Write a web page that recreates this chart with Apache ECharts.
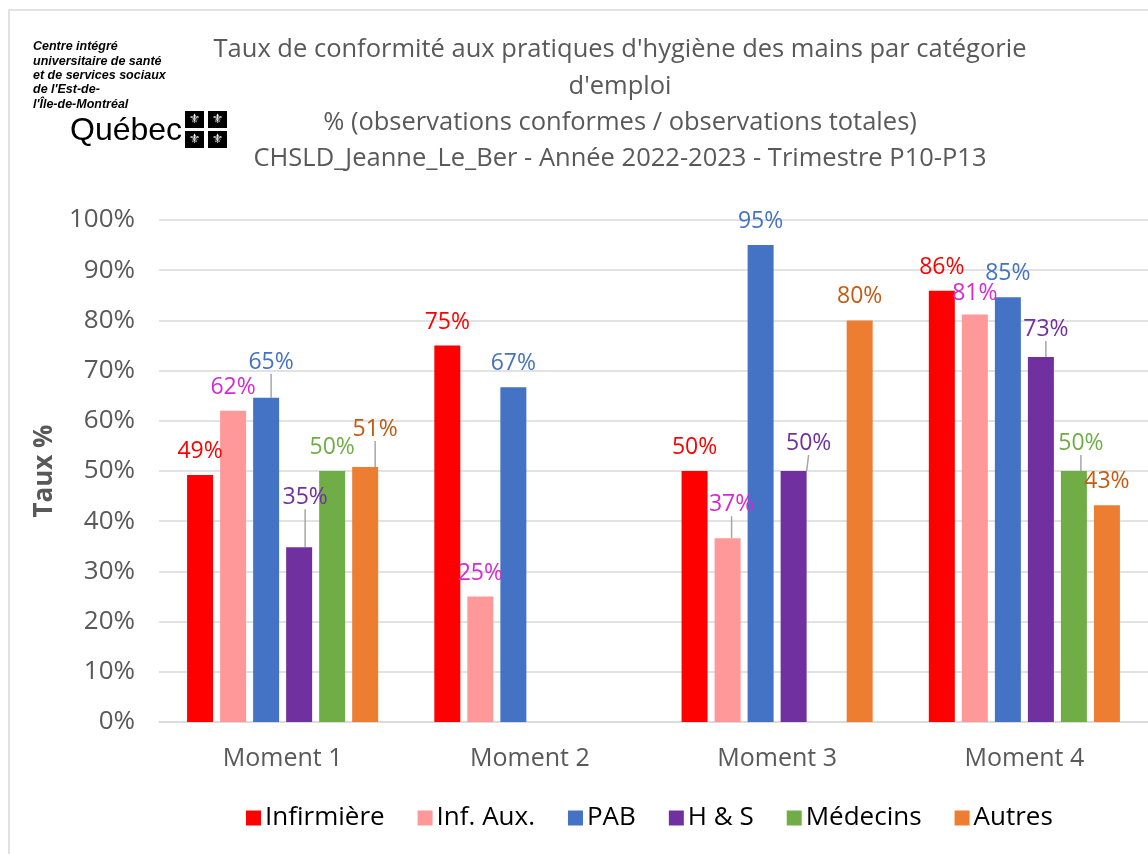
<!DOCTYPE html>
<html>
<head>
<meta charset="utf-8">
<script src="https://cdn.jsdelivr.net/npm/echarts@6/dist/echarts.min.js"></script>
<style>html,body{margin:0;padding:0;background:#fff;}#c{width:1148px;height:854px;}</style>
</head>
<body>
<div id="c"></div>
<script>
const categories = ['Moment 1', 'Moment 2', 'Moment 3', 'Moment 4'];
const seriesNames = ['Infirmière', 'Inf. Aux.', 'PAB', 'H & S', 'Médecins', 'Autres'];
const infirmiere = [49.2, 75, 50, 85.9];
const infAux = [62, 25, 36.6, 81.2];
const pab = [64.6, 66.7, 95, 84.6];
const hs = [34.8, null, 50, 72.7];
const medecins = [50, null, null, 50];
const autres = [50.8, null, 80, 43.2];
const yTicks = [0, 10, 20, 30, 40, 50, 60, 70, 80, 90, 100];
const titleLines = [
  "Taux de conformité aux pratiques d'hygiène des mains par catégorie",
  "d'emploi",
  "% (observations conformes / observations totales)",
  "CHSLD_Jeanne_Le_Ber - Année 2022-2023 - Trimestre P10-P13"
];
const logoLines = ['Centre intégré', 'universitaire de santé', 'et de services sociaux', "de l'Est-de-", "l'Île-de-Montréal"];

const allValues = [infirmiere, infAux, pab, hs, medecins, autres];
const barColors = ['#FF0000', '#FF9999', '#4472C4', '#7030A0', '#70AD47', '#ED7D31'];
const labelColors = ['#FF0000', '#D62AD0', '#4472C4', '#7030A0', '#70AD47', '#C55A11'];
// label displacement [dx, dy, leaderLine]
const labelMoves = [
  [[0,0,0],[0,0,0],[0,0,0],[0,0,0]],
  [[0,0,0],[0,0,0],[4,-10,1],[0,3,0]],
  [[5,-12,1],[0,0,0],[0,0,0],[0,0,0]],
  [[6,-26,1],[0,0,0],[15,-4,1],[5,-4,1]],
  [[0,0,0],[0,0,0],[0,0,0],[7,-4,1]],
  [[10,-14,1],[0,0,0],[0,0,0],[0,0,0]]
];

const font = '"Open Sans", "Noto Sans", sans-serif';
const series = seriesNames.map((name, si) => ({
  name: name,
  type: 'bar',
  barWidth: 26,
  barGap: '27%',
  itemStyle: { color: barColors[si] },
  label: {
    show: true,
    position: 'top',
    distance: 12,
    color: labelColors[si],
    fontSize: 23,
    fontFamily: font,
    formatter: p => p.value == null ? '' : Math.round(p.value) + '%'
  },
  labelLine: { show: false, lineStyle: { color: '#A6A6A6', width: 1.5 } },
  labelLayout: p => {
    const m = labelMoves[si][p.dataIndex];
    return { dx: m[0], dy: m[1] };
  },
  data: allValues[si].map((v, di) => {
    const m = labelMoves[si][di];
    return m[2] ? { value: v, labelLine: { show: true } } : v;
  })
}));

const graphics = [
  { type: 'rect', shape: { x: 9, y: 10, width: 1160, height: 870 }, style: { fill: 'none', stroke: '#D9D9D9', lineWidth: 1.5 }, silent: true }
];
[50, 87, 123, 159].forEach((y, i) => {
  graphics.push({ type: 'text', x: 620, y: y, style: { text: titleLines[i], fill: '#595959', font: '25.5px ' + font, textAlign: 'center', textVerticalAlign: 'middle' } });
});
logoLines.forEach((t, i) => {
  graphics.push({ type: 'text', x: 33, y: 47 + i * 14.3, style: { text: t, fill: '#000', font: 'italic bold 12.5px "Liberation Sans", Arial, sans-serif', textVerticalAlign: 'middle' } });
});
graphics.push({ type: 'text', x: 70, y: 131, style: { text: 'Québec', fill: '#000', font: '32px "Liberation Sans Narrow", "Liberation Sans", sans-serif', textVerticalAlign: 'middle' } });
[[185,111],[208,111],[185,131],[208,131]].forEach(p => {
  graphics.push({ type: 'rect', shape: { x: p[0], y: p[1], width: 19, height: 17 }, style: { fill: '#000' } });
  graphics.push({ type: 'text', x: p[0] + 9.5, y: p[1] + 8.5, style: { text: '⚜', fill: '#fff', font: '13px "DejaVu Sans"', textAlign: 'center', textVerticalAlign: 'middle' } });
});

const chart = echarts.init(document.getElementById('c'), null, { renderer: 'canvas' });
chart.setOption({
  animation: false,
  backgroundColor: '#fff',
  graphic: graphics,
  grid: { left: 159, top: 220, right: 0, height: 502 },
  legend: {
    bottom: 18,
    left: 241,
    itemWidth: 15,
    itemHeight: 15,
    itemGap: 33,
    icon: 'rect',
    textStyle: { color: '#000', fontSize: 26, fontFamily: font, padding: [0, 0, 0, -1] },
    data: seriesNames
  },
  xAxis: {
    type: 'category',
    data: categories,
    axisLine: { lineStyle: { color: '#D9D9D9', width: 1.5 } },
    axisTick: { show: false },
    axisLabel: { color: '#595959', fontSize: 25, fontFamily: font, margin: 24 }
  },
  yAxis: {
    type: 'value',
    min: 0,
    max: 100,
    interval: 10,
    name: 'Taux %',
    nameLocation: 'middle',
    nameGap: 101,
    nameTextStyle: { color: '#595959', fontSize: 26, fontWeight: 'bold', fontFamily: font },
    axisLine: { show: false },
    axisTick: { show: false },
    splitLine: { lineStyle: { color: '#D9D9D9', width: 1.5 } },
    axisLabel: {
      color: '#595959', fontSize: 26, fontFamily: font, margin: 24,
      customValues: yTicks,
      formatter: v => v + '%'
    }
  },
  series: series
});
</script>
</body>
</html>
